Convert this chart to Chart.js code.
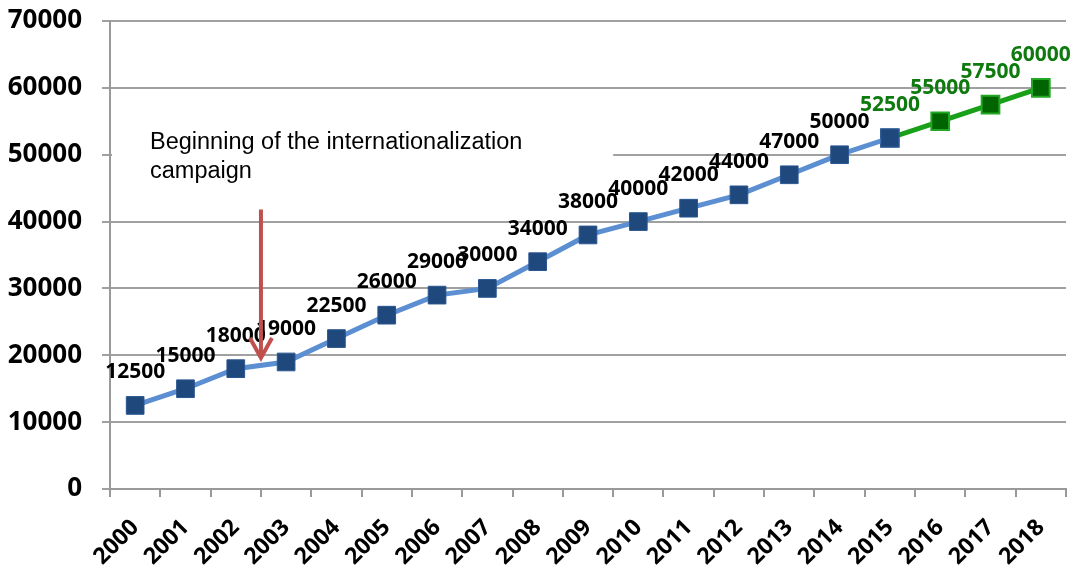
<!DOCTYPE html>
<html>
<head>
<meta charset="utf-8">
<script src="https://cdn.jsdelivr.net/npm/chart.js@4"></script>
<style>
html,body{margin:0;padding:0;background:#fff;}
#wrap{width:1076px;height:572px;position:relative;}
</style>
</head>
<body>
<div id="wrap"><canvas id="c" width="1076" height="572"></canvas></div>
<script>
const years = ['2000','2001','2002','2003','2004','2005','2006','2007','2008','2009','2010','2011','2012','2013','2014','2015','2016','2017','2018'];
const actualValues = [12500,15000,18000,19000,22500,26000,29000,30000,34000,38000,40000,42000,44000,47000,50000,52500,null,null,null];
const forecastValues = [null,null,null,null,null,null,null,null,null,null,null,null,null,null,null,52500,55000,57500,60000];
const yTicks = [0,10000,20000,30000,40000,50000,60000,70000];
const noteLines = ['Beginning of the internationalization','campaign'];
const arrowFrom = 41800;
const arrowTo = 19600;
const noteValue = 51800;

const FONT = '"Open Sans", "DejaVu Sans", sans-serif';

const labelsPlugin = {
  id: 'labelsAndNote',
  beforeDatasetsDraw(chart) {
    const {ctx, scales: {x, y}, chartArea} = chart;
    ctx.save();
    ctx.fillStyle = '#ffffff';
    const top = y.getPixelForValue(noteValue) - 22;
    ctx.fillRect(chartArea.left + 2, top, x.getPixelForValue(9.5) - chartArea.left - 2, 68);
    ctx.restore();
  },
  afterDatasetsDraw(chart) {
    const {ctx, scales: {x, y}, chartArea} = chart;
    ctx.save();
    ctx.font = 'bold 21px ' + FONT;
    ctx.textAlign = 'center';
    ctx.textBaseline = 'middle';
    chart.data.datasets.forEach((ds, di) => {
      const meta = chart.getDatasetMeta(di);
      ds.data.forEach((v, i) => {
        if (v === null) return;
        if (di === 0 && i === 15) return;
        const pt = meta.data[i];
        ctx.fillStyle = ds.labelColor;
        ctx.fillText(String(v), pt.x, pt.y - 33);
      });
    });
    ctx.font = '23.5px "Liberation Sans", Arial, sans-serif';
    ctx.textAlign = 'left';
    ctx.fillStyle = '#000';
    const ty = y.getPixelForValue(noteValue);
    noteLines.forEach((t, k) => ctx.fillText(t, chartArea.left + 40, ty + k * 29));
    const halfStep = (x.getPixelForValue(1) - x.getPixelForValue(0)) / 2;
    const ax = x.getPixelForValue(2) + halfStep;
    const y1 = y.getPixelForValue(arrowFrom);
    const y2 = y.getPixelForValue(arrowTo);
    ctx.strokeStyle = '#c0504d';
    ctx.lineWidth = 4;
    ctx.beginPath();
    ctx.moveTo(ax, y1);
    ctx.lineTo(ax, y2 - 2);
    ctx.stroke();
    ctx.lineJoin = 'miter';
    ctx.beginPath();
    ctx.moveTo(ax - 11, y2 - 20);
    ctx.lineTo(ax, y2);
    ctx.lineTo(ax + 11, y2 - 20);
    ctx.stroke();
    ctx.restore();
  }
};

new Chart(document.getElementById('c'), {
  type: 'line',
  data: {
    labels: years,
    datasets: [
      {
        data: actualValues,
        borderColor: '#5b8fd1',
        borderWidth: 5,
        pointStyle: 'rect',
        pointRadius: 12.5,
        pointHoverRadius: 12.5,
        pointBackgroundColor: '#1f497d',
        pointBorderColor: '#2a5690',
        pointBorderWidth: 1,
        tension: 0,
        labelColor: '#000000'
      },
      {
        data: forecastValues,
        borderColor: '#18a018',
        borderWidth: 5,
        pointStyle: 'rect',
        pointRadius: 12.5,
        pointHoverRadius: 12.5,
        pointBackgroundColor: '#006400',
        pointBorderColor: years.map((_, i) => i === 15 ? '#2d5a94' : '#22a822'),
        pointBorderWidth: 2,
        tension: 0,
        labelColor: '#0f7a0f'
      }
    ]
  },
  options: {
    responsive: false,
    animation: false,
    events: [],
    layout: { autoPadding: false, padding: { top: 21, right: 10, left: 0, bottom: 0 } },
    plugins: { legend: { display: false }, tooltip: { enabled: false } },
    scales: {
      x: {
        offset: true,
        grid: { display: true, offset: true, drawOnChartArea: false, color: '#999999', lineWidth: 2, tickLength: 8 },
        border: { display: true, color: '#999999', width: 2 },
        ticks: { color: '#000', font: { family: FONT, weight: 'bold', size: 23 }, maxRotation: 45, minRotation: 45, padding: 17, autoSkip: false },
        afterFit(s) { s.height = 83; s.paddingLeft = 0; s.paddingRight = 0; }
      },
      y: {
        min: 0, max: 70000,
        afterBuildTicks(s) { s.ticks = yTicks.map(v => ({ value: v })); },
        grid: { color: '#a0a0a0', lineWidth: 2, tickLength: 8 },
        border: { display: true, color: '#999999', width: 2 },
        ticks: { color: '#000', font: { family: FONT, weight: 'bold', size: 26 }, padding: 20, callback: v => String(v) },
        afterFit(s) { s.width = 110; s.paddingTop = 0; s.paddingBottom = 0; }
      }
    }
  },
  plugins: [labelsPlugin]
});
</script>
</body>
</html>
